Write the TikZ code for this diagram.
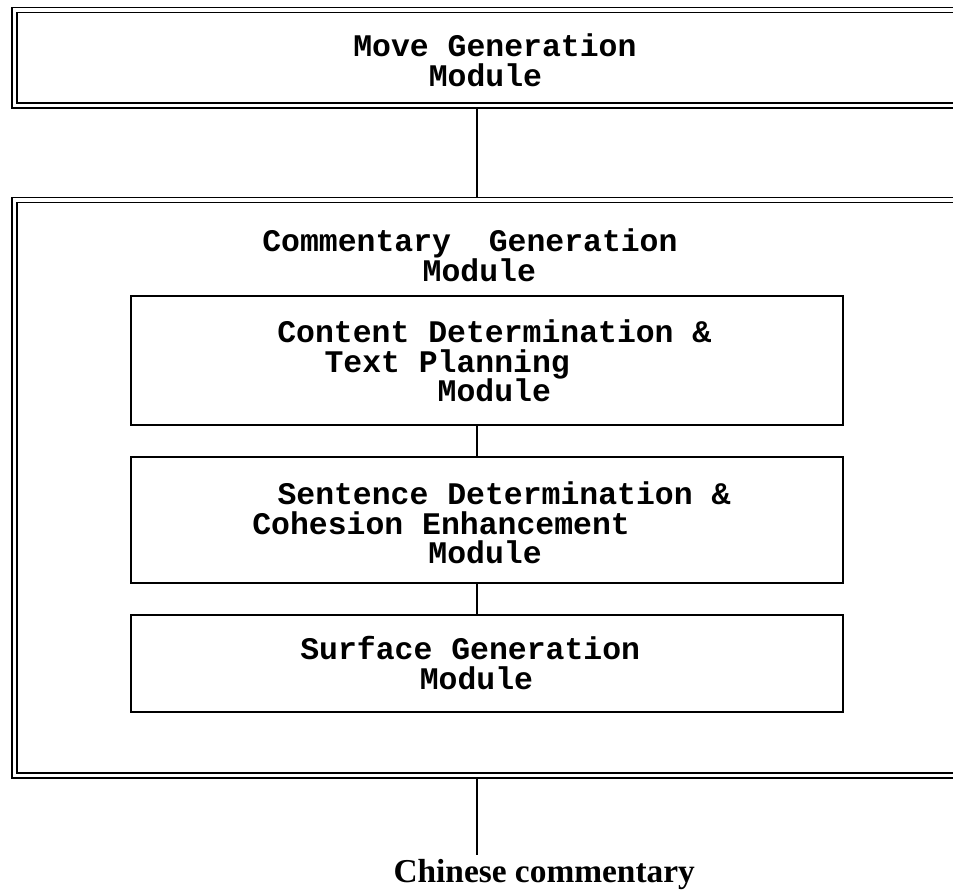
\documentclass[tikz,border=0pt]{standalone}
\usepackage{fontspec}
\setmonofont{Liberation Mono}
\newfontfamily\capfont{Liberation Serif}
\usetikzlibrary{positioning,calc}
\tikzset{
  outerbox/.style={draw=black,double,double distance=1.85pt,line width=1pt,outer sep=1.9pt,minimum width=19.7cm},
  innerbox/.style={draw=black,line width=1.1pt,minimum width=14.24cm},
  modtext/.style={font=\ttfamily\bfseries\fontsize{17.9}{17}\selectfont,align=left,inner sep=0pt,anchor=north west},
  link/.style={line width=1pt,draw=black}
}
\begin{document}
\begin{tikzpicture}[x=0.02cm,y=-0.02cm]
\clip (0,0) rectangle (953,889);
% outer modules
\node[outerbox,minimum height=1.91cm] (move) at (507,57.75) {};
\node[outerbox,minimum height=11.51cm] (comm) at (507,487.75) {};
% inner modules
\node[innerbox,minimum height=2.58cm] (cdtp) at (487,360.5) {};
\node[innerbox,minimum height=2.52cm] (sdce) at (487,520) {};
\node[innerbox,minimum height=1.94cm] (surf) at (487,663.5) {};
% texts
\node[modtext] (movetxt) at (353,33) {Move Generation\\\hspace*{2.4em}Module};
\node[modtext] (commtxt) at (262,228) {Commentary~~Generation\\\hspace*{5.1em}Module};
\node[modtext] (cdtptxt) at (277,319) {Content Determination \&\\\hspace*{1.5em}Text Planning\\\hspace*{5.1em}Module};
\node[modtext] (sdcetxt) at (252,481) {\hspace*{0.8em}Sentence Determination \&\\Cohesion Enhancement\\\hspace*{5.6em}Module};
\node[modtext] (surftxt) at (300,636) {Surface Generation\\\hspace*{3.8em}Module};
\node[font=\capfont\bfseries\fontsize{19}{19}\selectfont,inner sep=0pt,outer sep=2pt,anchor=base west] (out) at (390,882) {Chinese commentary};
% connectors
\coordinate (axis) at (477,0);
\draw[link] (move.south -| axis) -- (comm.north -| axis);
\draw[link] (cdtp.south -| axis) -- (sdce.north -| axis);
\draw[link] (sdce.south -| axis) -- (surf.north -| axis);
\draw[link] (comm.south -| axis) -- (out.north -| axis);
\end{tikzpicture}
\end{document}
